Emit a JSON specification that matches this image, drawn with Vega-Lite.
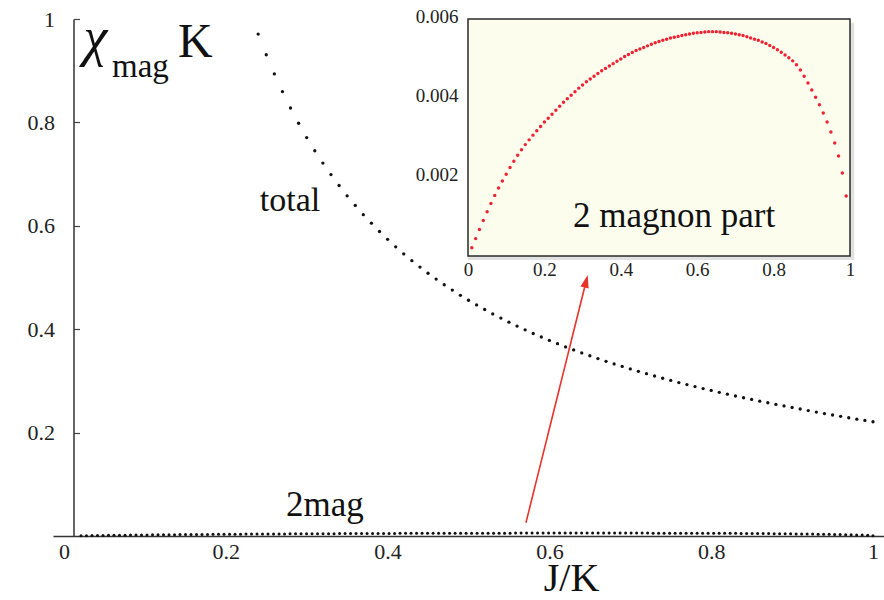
{
"$schema": "https://vega.github.io/schema/vega-lite/v6.json",
"width": 831, "height": 517,
"autosize": {"type": "none"},
"padding": {"left": 53, "top": 19, "right": 0, "bottom": 64},
"background": "white",
"config": {"view": {"stroke": null}, "font": "Times New Roman, Liberation Serif, serif", "text": {"font": "Times New Roman, Liberation Serif, serif"}, "axis": {"grid": false, "labelFont": "Times New Roman, Liberation Serif, serif", "titleFont": "Times New Roman, Liberation Serif, serif"}},
"datasets": {
"one": [{}],
"total": [
{"x":0.24,"y":0.9708},{"x":0.25,"y":0.9308},{"x":0.26,"y":0.8938},{"x":0.27,"y":0.8596},{"x":0.28,"y":0.8279},{"x":0.29,"y":0.7983},{"x":0.30,"y":0.7707},{"x":0.31,"y":0.7452},{"x":0.32,"y":0.7213},{"x":0.33,"y":0.6991},{"x":0.34,"y":0.6779},{"x":0.35,"y":0.6580},{"x":0.36,"y":0.6394},{"x":0.37,"y":0.6216},{"x":0.38,"y":0.6050},{"x":0.39,"y":0.5890},{"x":0.40,"y":0.5738},{"x":0.41,"y":0.5593},{"x":0.42,"y":0.5457},{"x":0.43,"y":0.5326},{"x":0.44,"y":0.5202},{"x":0.45,"y":0.5082},{"x":0.46,"y":0.4970},{"x":0.47,"y":0.4860},{"x":0.48,"y":0.4756},{"x":0.49,"y":0.4655},{"x":0.50,"y":0.4560},{"x":0.51,"y":0.4469},{"x":0.52,"y":0.4381},{"x":0.53,"y":0.4296},{"x":0.54,"y":0.4215},{"x":0.55,"y":0.4136},{"x":0.56,"y":0.4061},{"x":0.57,"y":0.3988},{"x":0.58,"y":0.3917},{"x":0.59,"y":0.3849},{"x":0.60,"y":0.3783},{"x":0.61,"y":0.3720},{"x":0.62,"y":0.3658},{"x":0.63,"y":0.3600},{"x":0.64,"y":0.3542},{"x":0.65,"y":0.3486},{"x":0.66,"y":0.3432},{"x":0.67,"y":0.3379},{"x":0.68,"y":0.3329},{"x":0.69,"y":0.3280},{"x":0.70,"y":0.3231},{"x":0.71,"y":0.3185},{"x":0.72,"y":0.3139},{"x":0.73,"y":0.3095},{"x":0.74,"y":0.3051},{"x":0.75,"y":0.3009},{"x":0.76,"y":0.2968},{"x":0.77,"y":0.2929},{"x":0.78,"y":0.2890},{"x":0.79,"y":0.2852},{"x":0.80,"y":0.2815},{"x":0.81,"y":0.2779},{"x":0.82,"y":0.2743},{"x":0.83,"y":0.2708},{"x":0.84,"y":0.2674},{"x":0.85,"y":0.2641},{"x":0.86,"y":0.2608},{"x":0.87,"y":0.2577},{"x":0.88,"y":0.2545},{"x":0.89,"y":0.2516},{"x":0.90,"y":0.2486},{"x":0.91,"y":0.2456},{"x":0.92,"y":0.2426},{"x":0.93,"y":0.2397},{"x":0.94,"y":0.2368},{"x":0.95,"y":0.2341},{"x":0.96,"y":0.2314},{"x":0.97,"y":0.2287},{"x":0.98,"y":0.2260},{"x":0.99,"y":0.2235},{"x":1.00,"y":0.2210}
],
"twomagInset": [
{"x":0.01,"y":0.00021},{"x":0.02,"y":0.00044},{"x":0.03,"y":0.00067},{"x":0.04,"y":0.00090},{"x":0.05,"y":0.00112},{"x":0.06,"y":0.00133},{"x":0.07,"y":0.00153},{"x":0.08,"y":0.00172},{"x":0.09,"y":0.00190},{"x":0.10,"y":0.00207},{"x":0.11,"y":0.00224},{"x":0.12,"y":0.00240},{"x":0.13,"y":0.00255},{"x":0.14,"y":0.00269},{"x":0.15,"y":0.00282},{"x":0.16,"y":0.00294},{"x":0.17,"y":0.00306},{"x":0.18,"y":0.00317},{"x":0.19,"y":0.00328},{"x":0.20,"y":0.00339},{"x":0.21,"y":0.00349},{"x":0.22,"y":0.00359},{"x":0.23,"y":0.00369},{"x":0.24,"y":0.00379},{"x":0.25,"y":0.00389},{"x":0.26,"y":0.00398},{"x":0.27,"y":0.00407},{"x":0.28,"y":0.00416},{"x":0.29,"y":0.00425},{"x":0.30,"y":0.00433},{"x":0.31,"y":0.00441},{"x":0.32,"y":0.00448},{"x":0.33,"y":0.00455},{"x":0.34,"y":0.00462},{"x":0.35,"y":0.00469},{"x":0.36,"y":0.00475},{"x":0.37,"y":0.00481},{"x":0.38,"y":0.00487},{"x":0.39,"y":0.00493},{"x":0.40,"y":0.00499},{"x":0.41,"y":0.00505},{"x":0.42,"y":0.00510},{"x":0.43,"y":0.00515},{"x":0.44,"y":0.00520},{"x":0.45,"y":0.00524},{"x":0.46,"y":0.00528},{"x":0.47,"y":0.00532},{"x":0.48,"y":0.00536},{"x":0.49,"y":0.00540},{"x":0.50,"y":0.00543},{"x":0.51,"y":0.00546},{"x":0.52,"y":0.00549},{"x":0.53,"y":0.00552},{"x":0.54,"y":0.00554},{"x":0.55,"y":0.00556},{"x":0.56,"y":0.00558},{"x":0.57,"y":0.00560},{"x":0.58,"y":0.00562},{"x":0.59,"y":0.00564},{"x":0.60,"y":0.00565},{"x":0.61,"y":0.00566},{"x":0.62,"y":0.00567},{"x":0.63,"y":0.00568},{"x":0.64,"y":0.00568},{"x":0.65,"y":0.00568},{"x":0.66,"y":0.00567},{"x":0.67,"y":0.00566},{"x":0.68,"y":0.00565},{"x":0.69,"y":0.00564},{"x":0.70,"y":0.00562},{"x":0.71,"y":0.00560},{"x":0.72,"y":0.00558},{"x":0.73,"y":0.00555},{"x":0.74,"y":0.00552},{"x":0.75,"y":0.00549},{"x":0.76,"y":0.00546},{"x":0.77,"y":0.00542},{"x":0.78,"y":0.00538},{"x":0.79,"y":0.00533},{"x":0.80,"y":0.00528},{"x":0.81,"y":0.00522},{"x":0.82,"y":0.00516},{"x":0.83,"y":0.00509},{"x":0.84,"y":0.00502},{"x":0.85,"y":0.00494},{"x":0.86,"y":0.00484},{"x":0.87,"y":0.00471},{"x":0.88,"y":0.00455},{"x":0.89,"y":0.00438},{"x":0.90,"y":0.00420},{"x":0.91,"y":0.00402},{"x":0.92,"y":0.00383},{"x":0.93,"y":0.00362},{"x":0.94,"y":0.00339},{"x":0.95,"y":0.00314},{"x":0.96,"y":0.00286},{"x":0.97,"y":0.00253},{"x":0.98,"y":0.00210},{"x":0.99,"y":0.00152}
],
"twomagMain": [
{"x":0.021,"y":0.00046},{"x":0.0278,"y":0.00062},{"x":0.0346,"y":0.00078},{"x":0.0414,"y":0.00093},{"x":0.0482,"y":0.00108},{"x":0.055,"y":0.00123},{"x":0.0618,"y":0.00137},{"x":0.0686,"y":0.0015},{"x":0.0754,"y":0.00163},{"x":0.0822,"y":0.00176},{"x":0.089,"y":0.00188},{"x":0.0958,"y":0.002},{"x":0.1026,"y":0.00211},{"x":0.1094,"y":0.00223},{"x":0.1162,"y":0.00234},{"x":0.123,"y":0.00245},{"x":0.1298,"y":0.00255},{"x":0.1366,"y":0.00264},{"x":0.1434,"y":0.00273},{"x":0.1502,"y":0.00282},{"x":0.157,"y":0.0029},{"x":0.1638,"y":0.00298},{"x":0.1706,"y":0.00307},{"x":0.1774,"y":0.00314},{"x":0.1842,"y":0.00322},{"x":0.191,"y":0.00329},{"x":0.1978,"y":0.00337},{"x":0.2046,"y":0.00344},{"x":0.2114,"y":0.0035},{"x":0.2182,"y":0.00357},{"x":0.225,"y":0.00364},{"x":0.2318,"y":0.00371},{"x":0.2386,"y":0.00378},{"x":0.2454,"y":0.00384},{"x":0.2522,"y":0.00391},{"x":0.259,"y":0.00397},{"x":0.2658,"y":0.00403},{"x":0.2726,"y":0.0041},{"x":0.2794,"y":0.00416},{"x":0.2862,"y":0.00422},{"x":0.293,"y":0.00427},{"x":0.2998,"y":0.00433},{"x":0.3066,"y":0.00438},{"x":0.3134,"y":0.00444},{"x":0.3202,"y":0.00449},{"x":0.327,"y":0.00453},{"x":0.3338,"y":0.00458},{"x":0.3406,"y":0.00462},{"x":0.3474,"y":0.00467},{"x":0.3542,"y":0.00471},{"x":0.361,"y":0.00476},{"x":0.3678,"y":0.0048},{"x":0.3746,"y":0.00484},{"x":0.3814,"y":0.00488},{"x":0.3882,"y":0.00492},{"x":0.395,"y":0.00496},{"x":0.4018,"y":0.005},{"x":0.4086,"y":0.00504},{"x":0.4154,"y":0.00508},{"x":0.4222,"y":0.00511},{"x":0.429,"y":0.00515},{"x":0.4358,"y":0.00518},{"x":0.4426,"y":0.00521},{"x":0.4494,"y":0.00524},{"x":0.4562,"y":0.00526},{"x":0.463,"y":0.00529},{"x":0.4698,"y":0.00532},{"x":0.4766,"y":0.00535},{"x":0.4834,"y":0.00537},{"x":0.4902,"y":0.0054},{"x":0.497,"y":0.00542},{"x":0.5038,"y":0.00544},{"x":0.5106,"y":0.00546},{"x":0.5174,"y":0.00548},{"x":0.5242,"y":0.0055},{"x":0.531,"y":0.00552},{"x":0.5378,"y":0.00554},{"x":0.5446,"y":0.00555},{"x":0.5514,"y":0.00556},{"x":0.5582,"y":0.00558},{"x":0.565,"y":0.00559},{"x":0.5718,"y":0.0056},{"x":0.5786,"y":0.00562},{"x":0.5854,"y":0.00563},{"x":0.5922,"y":0.00564},{"x":0.599,"y":0.00565},{"x":0.6058,"y":0.00566},{"x":0.6126,"y":0.00566},{"x":0.6194,"y":0.00567},{"x":0.6262,"y":0.00568},{"x":0.633,"y":0.00568},{"x":0.6398,"y":0.00568},{"x":0.6466,"y":0.00568},{"x":0.6534,"y":0.00567},{"x":0.6602,"y":0.00567},{"x":0.667,"y":0.00566},{"x":0.6738,"y":0.00566},{"x":0.6806,"y":0.00565},{"x":0.6874,"y":0.00564},{"x":0.6942,"y":0.00563},{"x":0.701,"y":0.00562},{"x":0.7078,"y":0.0056},{"x":0.7146,"y":0.00559},{"x":0.7214,"y":0.00557},{"x":0.7282,"y":0.00556},{"x":0.735,"y":0.00554},{"x":0.7418,"y":0.00551},{"x":0.7486,"y":0.00549},{"x":0.7554,"y":0.00547},{"x":0.7622,"y":0.00545},{"x":0.769,"y":0.00542},{"x":0.7758,"y":0.0054},{"x":0.7826,"y":0.00537},{"x":0.7894,"y":0.00533},{"x":0.7962,"y":0.0053},{"x":0.803,"y":0.00526},{"x":0.8098,"y":0.00522},{"x":0.8166,"y":0.00518},{"x":0.8234,"y":0.00514},{"x":0.8302,"y":0.00509},{"x":0.837,"y":0.00504},{"x":0.8438,"y":0.00499},{"x":0.8506,"y":0.00493},{"x":0.8574,"y":0.00487},{"x":0.8642,"y":0.00479},{"x":0.871,"y":0.0047},{"x":0.8778,"y":0.00459},{"x":0.8846,"y":0.00447},{"x":0.8914,"y":0.00435},{"x":0.8982,"y":0.00423},{"x":0.905,"y":0.00411},{"x":0.9118,"y":0.00399},{"x":0.9186,"y":0.00386},{"x":0.9254,"y":0.00371},{"x":0.9322,"y":0.00357},{"x":0.939,"y":0.00341},{"x":0.9458,"y":0.00325},{"x":0.9526,"y":0.00307},{"x":0.9594,"y":0.00288},{"x":0.9662,"y":0.00264},{"x":0.973,"y":0.0024},{"x":0.9798,"y":0.00211},{"x":0.9866,"y":0.00172},{"x":0.9934,"y":0.00125},{"x":1.0,"y":0.0007}
]
},
"layer": [
{
"layer": [
{
"data": {"name": "total"},
"mark": {"type": "circle", "size": 11, "color": "#111111", "opacity": 1},
"encoding": {
"x": {"field": "x", "type": "quantitative", "scale": {"domain": [-0.0136, 1.0136], "nice": false, "zero": false},
"axis": {"orient": "bottom", "values": [0, 0.2, 0.4, 0.6, 0.8, 1], "format": "~g", "ticks": false, "domainColor": "#333333", "domainWidth": 1.5, "labelFontSize": 22, "labelColor": "#222222", "labelPadding": 5, "labelFlush": false, "title": "J/K", "titleFontSize": 40, "titleFontWeight": "normal", "titleColor": "#111111", "titleX": 518, "titleY": 54, "titleBaseline": "alphabetic", "titleAlign": "center"}},
"y": {"field": "y", "type": "quantitative", "scale": {"domain": [0, 1], "nice": false, "zero": false},
"axis": {"orient": "left", "offset": -20.5, "values": [0.2, 0.4, 0.6, 0.8, 1], "format": "~g", "ticks": true, "tickSize": -6, "tickColor": "#444444", "tickWidth": 1.2, "domainColor": "#333333", "domainWidth": 1.5, "labelFontSize": 22, "labelColor": "#222222", "labelPadding": 25, "labelFlush": false, "title": null}}
}
},
{
"data": {"name": "twomagMain"},
"mark": {"type": "circle", "size": 9, "color": "#111111", "opacity": 1},
"encoding": {
"x": {"field": "x", "type": "quantitative"},
"y": {"field": "y", "type": "quantitative"}
}
},
{
"data": {"name": "one"},
"mark": {"type": "rule", "color": "#e8332a", "strokeWidth": 1.6},
"encoding": {
"x": {"datum": 0.571, "type": "quantitative"},
"y": {"datum": 0.0257, "type": "quantitative"},
"x2": {"datum": 0.6454},
"y2": {"datum": 0.4927}
}
},
{
"data": {"name": "one"},
"mark": {"type": "point", "shape": "M0,-1L0.65,1L-0.65,1Z", "filled": true, "color": "#e8332a", "opacity": 1, "size": 169, "angle": 14, "strokeWidth": 0},
"encoding": {
"x": {"datum": 0.6454, "type": "quantitative"},
"y": {"datum": 0.4927, "type": "quantitative"}
}
},
{
"data": {"name": "one"},
"mark": {"type": "text", "text": "χ", "fontSize": 54, "fontStyle": "italic", "align": "left", "baseline": "alphabetic", "color": "#111111", "font": "Times New Roman, Liberation Serif, serif"},
"encoding": {"x": {"datum": 0.024, "type": "quantitative"}, "y": {"datum": 0.93, "type": "quantitative"}}
},
{
"data": {"name": "one"},
"mark": {"type": "text", "text": "mag", "fontSize": 33, "align": "left", "baseline": "alphabetic", "color": "#111111", "font": "Times New Roman, Liberation Serif, serif"},
"encoding": {"x": {"datum": 0.0593, "type": "quantitative"}, "y": {"datum": 0.888, "type": "quantitative"}}
},
{
"data": {"name": "one"},
"mark": {"type": "text", "text": "K", "fontSize": 48, "align": "left", "baseline": "alphabetic", "color": "#111111", "font": "Times New Roman, Liberation Serif, serif"},
"encoding": {"x": {"datum": 0.141, "type": "quantitative"}, "y": {"datum": 0.9265, "type": "quantitative"}}
},
{
"data": {"name": "one"},
"mark": {"type": "text", "text": "total", "fontSize": 34, "align": "center", "baseline": "alphabetic", "color": "#111111", "font": "Times New Roman, Liberation Serif, serif"},
"encoding": {"x": {"datum": 0.2794, "type": "quantitative"}, "y": {"datum": 0.6286, "type": "quantitative"}}
},
{
"data": {"name": "one"},
"mark": {"type": "text", "text": "2mag", "fontSize": 35, "align": "center", "baseline": "alphabetic", "color": "#111111", "font": "Times New Roman, Liberation Serif, serif"},
"encoding": {"x": {"datum": 0.3226, "type": "quantitative"}, "y": {"datum": 0.0387, "type": "quantitative"}}
}
]
},
{
"layer": [
{
"data": {"name": "one"},
"mark": {"type": "rect", "color": "#777777", "opacity": 0.22},
"encoding": {
"x": {"datum": 0.0, "type": "quantitative", "scale": {"domain": [0, 1], "range": [415, 797], "nice": false, "zero": false},
"axis": {"orient": "bottom", "offset": -280, "values": [0, 0.2, 0.4, 0.6, 0.8, 1], "format": "~g", "domain": false, "ticks": false, "labelFontSize": 19, "labelColor": "#222222", "labelPadding": 4, "labelFlush": false, "title": null}},
"x2": {"datum": 1.011},
"y": {"datum": -0.0001, "type": "quantitative", "scale": {"domain": [0, 0.006], "range": [237, 0], "nice": false, "zero": false},
"axis": {"orient": "left", "offset": -415, "values": [0.002, 0.004, 0.006], "format": "~g", "domain": false, "ticks": false, "labelFontSize": 19, "labelColor": "#222222", "labelPadding": 10, "labelOffset": -3, "labelFlush": false, "title": null}},
"y2": {"datum": 0.0059}
}
},
{
"data": {"name": "one"},
"mark": {"type": "rect", "fill": "#fdfdee", "stroke": "#2a2a2a", "strokeWidth": 1.5, "opacity": 1},
"encoding": {
"x": {"datum": 0, "type": "quantitative"},
"x2": {"datum": 1},
"y": {"datum": 0, "type": "quantitative"},
"y2": {"datum": 0.006}
}
},
{
"data": {"name": "twomagInset"},
"mark": {"type": "circle", "size": 12, "color": "#ee2233", "opacity": 1},
"encoding": {
"x": {"field": "x", "type": "quantitative"},
"y": {"field": "y", "type": "quantitative"}
}
},
{
"data": {"name": "one"},
"mark": {"type": "text", "text": "2 magnon part", "fontSize": 35, "align": "left", "baseline": "alphabetic", "color": "#111111", "font": "Times New Roman, Liberation Serif, serif"},
"encoding": {"x": {"datum": 0.275, "type": "quantitative"}, "y": {"datum": 0.00074, "type": "quantitative"}}
}
]
}
],
"resolve": {"scale": {"x": "independent", "y": "independent"}, "axis": {"x": "independent", "y": "independent"}}
}
